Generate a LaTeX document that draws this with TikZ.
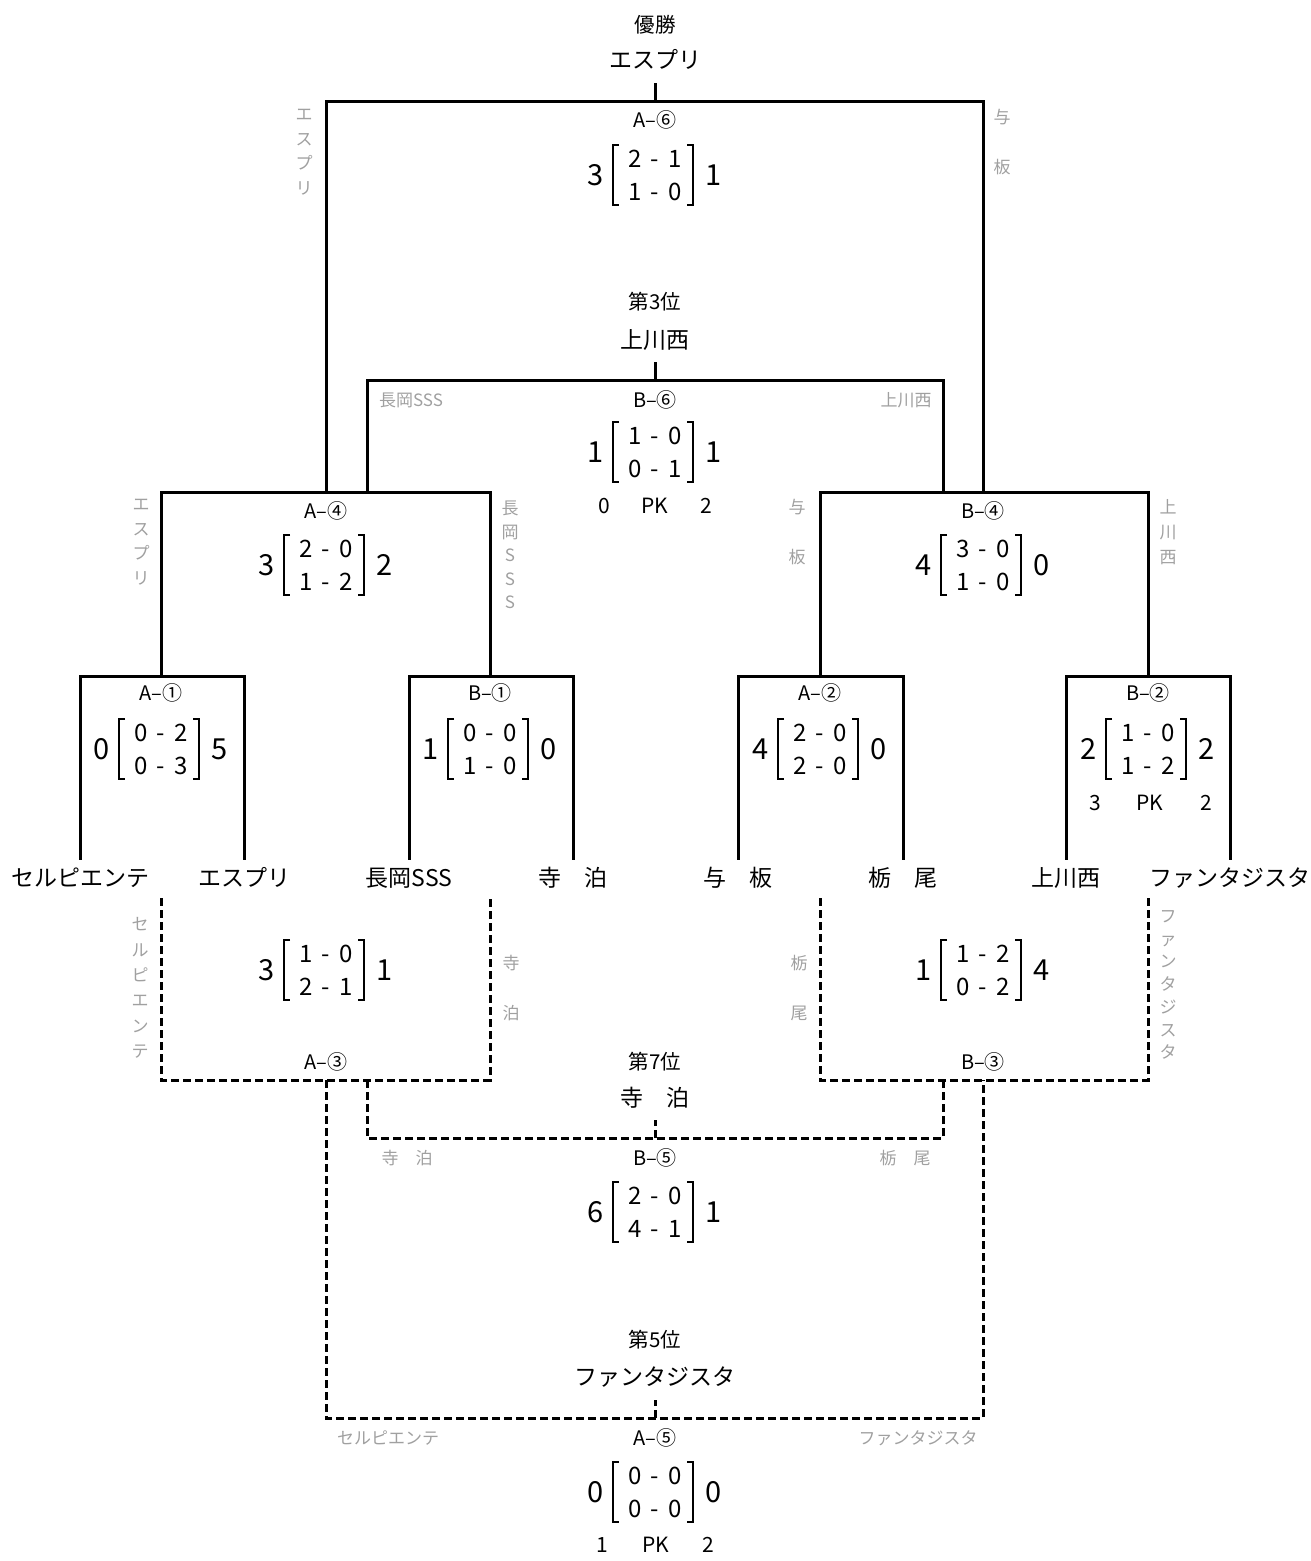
\documentclass[tikz,border=0pt]{standalone}
\usepackage{fontspec}
\setmainfont{Noto Sans CJK JP}
\definecolor{namegray}{RGB}{160,160,160}

\tikzset{
  win/.style={line width=3pt},
  lose/.style={line width=3pt, dash pattern=on 8pt off 4pt},
  team/.style={font=\fontsize{23}{26}\selectfont, inner sep=0pt, text height=26pt, text depth=6pt},
  title/.style={font=\fontsize{20.5}{24}\selectfont, inner sep=0pt},
  match/.style={font=\fontsize{20}{24}\selectfont, inner sep=0pt},
  half/.style={font=\fontsize{24}{26}\selectfont, inner sep=0pt, anchor=base},
  total/.style={font=\fontsize{29}{32}\selectfont, inner sep=0pt, anchor=base},
  pk/.style={font=\fontsize{21}{24}\selectfont, inner sep=0pt, anchor=base},
  side/.style={font=\fontsize{17}{20}\selectfont, text=namegray, inner sep=0pt},
  sidev/.style={side, align=center, font=\fontsize{17}{#1}\selectfont},
  sidev/.default=24.5,
}

% score of one match: name, centre, total, first half, second half, total
\newcommand{\matchscore}[8]{%
  \begin{scope}[shift={#2}]
    \node[total] (#1-l) at (-59,10.5) {#3};
    \node[half] (#1-a) at (-20,-8) {#4};
    \node[half] (#1-ab) at (0,-8) {-};
    \node[half] (#1-b) at (20,-8) {#5};
    \node[half] (#1-c) at (-20,25) {#6};
    \node[half] (#1-cd) at (0,25) {-};
    \node[half] (#1-d) at (20,25) {#7};
    \node[total] (#1-r) at (59,10.5) {#8};
    \draw[line width=1.2pt] (-36,-30) -- (-42,-30) -- (-42,30) -- (-36,30);
    \draw[line width=1.2pt] (32,-30) -- (38,-30) -- (38,30) -- (32,30);
  \end{scope}}

\begin{document}
\begin{tikzpicture}[x=1pt,y=-1pt]
  \useasboundingbox (0,0) rectangle (1311,1561);

  % Teams
  \node[team] (t1) at (80,876) {セルピエンテ};
  \node[team] (t2) at (244,876) {エスプリ};
  \node[team] (t3) at (409,876) {長岡SSS};
  \node[team] (t4) at (573,876) {寺　泊};
  \node[team] (t5) at (738,876) {与　板};
  \node[team] (t6) at (903,876) {栃　尾};
  \node[team] (t7) at (1066,876) {上川西};
  \node[team] (t8) at (1230,876) {ファンタジスタ};

  % Winners' bracket
  \coordinate (a1) at (161,676);
  \coordinate (b1) at (490,676);
  \coordinate (a2) at (820,676);
  \coordinate (b2) at (1148,676);
  \coordinate (a4) at (326,492);
  \coordinate (b4) at (983,492);
  \coordinate (a4x) at (367,492);
  \coordinate (b4x) at (943,492);
  \coordinate (b6) at (655,380);
  \coordinate (a6) at (655,101);
  \draw[win] (t1.north) |- (a1) -| (t2.north);
  \draw[win] (t3.north) |- (b1) -| (t4.north);
  \draw[win] (t5.north) |- (a2) -| (t6.north);
  \draw[win] (t7.north) |- (b2) -| (t8.north);
  \draw[win] (a1) |- (a4) -| (b1);
  \draw[win] (a2) |- (b4) -| (b2);
  \draw[win] (a4) |- (a6) -| (b4);
  \draw[win] (a4x) |- (b6) -| (b4x);
  \draw[win] (a6) -- ++(0,-18);
  \draw[win] (b6) -- ++(0,-18);

  % Losers' bracket
  \coordinate (a1d) at (161,898);
  \coordinate (b1d) at (490,898);
  \coordinate (a2d) at (820,898);
  \coordinate (b2d) at (1148,898);
  \coordinate (a3) at (326,1080);
  \coordinate (b3) at (983,1080);
  \coordinate (a3x) at (367,1080);
  \coordinate (b3x) at (943,1080);
  \coordinate (b5) at (655,1138);
  \coordinate (a5) at (655,1418);
  \draw[lose] (a1d) |- (a3) -| (b1d);
  \draw[lose] (a2d) |- (b3) -| (b2d);
  \draw[lose] (a3x) |- (b5) -| (b3x);
  \draw[lose] (a3) |- (a5) -| (b3);
  \draw[lose] (b5) -- ++(0,-18);
  \draw[lose] (a5) -- ++(0,-18);

  % Places
  \node[title] (first-t) at (655,25) {優勝};
  \node[team] (first) at (655,58) {エスプリ};
  \node[title] (third-t) at (655,302) {第3位};
  \node[team] (third) at (655,338) {上川西};
  \node[title] (seventh-t) at (655,1062) {第7位};
  \node[team] (seventh) at (655,1096) {寺　泊};
  \node[title] (fifth-t) at (655,1340) {第5位};
  \node[team] (fifth) at (655,1375) {ファンタジスタ};

  % Match labels
  \node[match] (a6-n) at (655,120) {A–⑥};
  \node[match] (b6-n) at (655,400) {B–⑥};
  \node[match] (a4-n) at (326,511) {A–④};
  \node[match] (b4-n) at (983,511) {B–④};
  \node[match] (a1-n) at (161,693) {A–①};
  \node[match] (b1-n) at (490,693) {B–①};
  \node[match] (a2-n) at (820,693) {A–②};
  \node[match] (b2-n) at (1148,693) {B–②};
  \node[match] (a3-n) at (326,1062) {A–③};
  \node[match] (b3-n) at (983,1062) {B–③};
  \node[match] (b5-n) at (655,1158) {B–⑤};
  \node[match] (a5-n) at (655,1438) {A–⑤};

  % Scores
  \matchscore{a6}{(655,175)}{3}{2}{1}{1}{0}{1}
  \matchscore{b6}{(655,452)}{1}{1}{0}{0}{1}{1}
  \matchscore{a4}{(326,565)}{3}{2}{0}{1}{2}{2}
  \matchscore{b4}{(983,565)}{4}{3}{0}{1}{0}{0}
  \matchscore{a1}{(161,749)}{0}{0}{2}{0}{3}{5}
  \matchscore{b1}{(490,749)}{1}{0}{0}{1}{0}{0}
  \matchscore{a2}{(820,749)}{4}{2}{0}{2}{0}{0}
  \matchscore{b2}{(1148,749)}{2}{1}{0}{1}{2}{2}
  \matchscore{a3}{(326,970)}{3}{1}{0}{2}{1}{1}
  \matchscore{b3}{(983,970)}{1}{1}{2}{0}{2}{4}
  \matchscore{b5}{(655,1212)}{6}{2}{0}{4}{1}{1}
  \matchscore{a5}{(655,1492)}{0}{0}{0}{0}{0}{0}

  % Penalties
  \node[pk] (b6-pk) at (655,513.5) {PK};
  \node[pk] (b6-pl) at (604,513.5) {0};
  \node[pk] (b6-pr) at (706,513.5) {2};
  \node[pk] (b2-pk) at (1150,810.5) {PK};
  \node[pk] (b2-pl) at (1095,810.5) {3};
  \node[pk] (b2-pr) at (1206,810.5) {2};
  \node[pk] (a5-pk) at (656,1552.5) {PK};
  \node[pk] (a5-pl) at (602,1552.5) {1};
  \node[pk] (a5-pr) at (708,1552.5) {2};

  % Side names
  \node[sidev] (a6-w) at (304,152) {エ\\ス\\プ\\リ};
  \node[sidev=50] (a6-e) at (1002,142) {与\\板};
  \node[side] (b6-w) at (411,400) {長岡SSS};
  \node[side] (b6-e) at (906,400) {上川西};
  \node[sidev] (a4-w) at (141,542) {エ\\ス\\プ\\リ};
  \node[sidev=23.5] (a4-e) at (510,555) {長\\岡\\S\\S\\S};
  \node[sidev=50] (b4-w) at (797,532) {与\\板};
  \node[sidev=25] (b4-e) at (1168,532) {上\\川\\西};
  \node[sidev=25.4] (a3-w) at (140,988) {セ\\ル\\ピ\\エ\\ン\\テ};
  \node[sidev=50] (a3-e) at (511,988) {寺\\泊};
  \node[sidev=50] (b3-w) at (799,988) {栃\\尾};
  \node[sidev=22.7] (b3-e) at (1168,985) {フ\\ァ\\ン\\タ\\ジ\\ス\\タ};
  \node[side] (b5-w) at (407,1158) {寺　泊};
  \node[side] (b5-e) at (905,1158) {栃　尾};
  \node[side] (a5-w) at (388,1438) {セルピエンテ};
  \node[side] (a5-e) at (918,1438) {ファンタジスタ};
\end{tikzpicture}
\end{document}
